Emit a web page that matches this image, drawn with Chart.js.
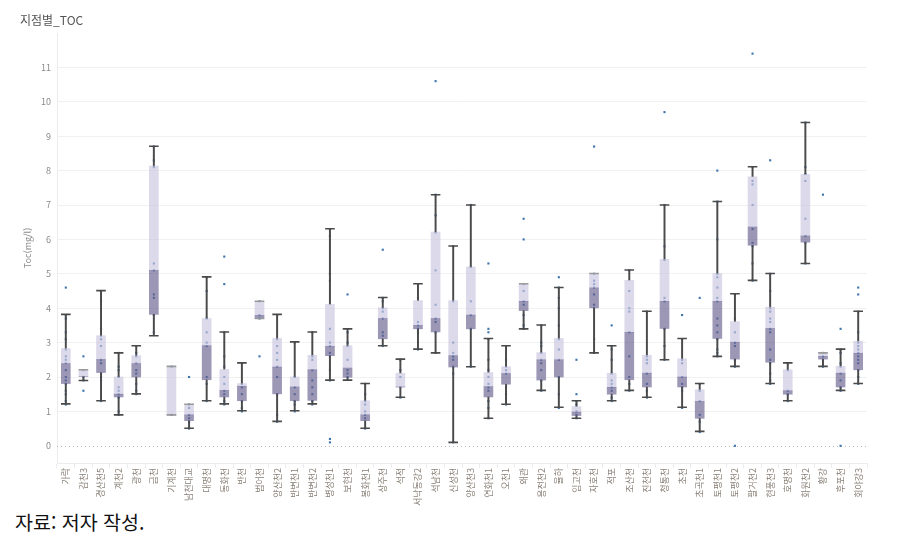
<!DOCTYPE html>
<html lang="ko">
<head>
<meta charset="utf-8">
<script src="https://cdn.jsdelivr.net/npm/chart.js@4.4.1/dist/chart.umd.min.js"></script>
<style>
  body { margin: 0; background: #fff; font-family: "Noto Sans CJK KR", "Noto Sans", sans-serif; }
  #wrap { position: relative; width: 898px; height: 543px; }
  #title { position: absolute; left: 20px; top: 11px; font-size: 12px; color: #555; }
  #box { position: absolute; left: 0; top: 0; width: 898px; height: 506px; }
  #source { position: absolute; left: 15px; top: 507px; font-size: 19.5px; color: #111; }
</style>
</head>
<body>
<div id="wrap">
  <div id="box"><canvas id="toc-chart"></canvas></div>
  <div id="title">지점별_TOC</div>
  <div id="source">자료: 저자 작성.</div>
</div>
<script>
// 지점 이름
const stations = ['가락', '감천3', '경산천5', '계천2', '광천', '금천', '기계천', '남천대교', '대명천', '동화천',
  '반천', '범어천', '양산천2', '반변천1', '반변천2', '병성천1', '보현천', '봉화천1', '상주천', '석적',
  '서낙동강2', '석남천', '신성천', '양산천3', '연화천1', '오천1', '왜관', '용전천2', '율하', '임고천',
  '자호천', '적포', '조산천', '진천천', '청통천', '초천', '초곡천1', '토평천1', '토평천2', '팔거천2',
  '현풍천3', '호명천', '화원천2', '황강', '후포천', '회야강3'];

// 상자 수치 (mg/l)
const mins    = [1.22, 1.90, 1.31, 0.90, 1.51, 3.20, 0.90, 0.51, 1.31, 1.22, 1.02, 3.70, 0.71, 1.02, 1.22, 1.91, 1.91, 0.51, 2.91, 1.41, 2.81, 2.70, 0.10, 2.30, 0.80, 1.21, 3.40, 1.61, 1.12, 0.80, 2.70, 1.31, 1.61, 1.41, 2.50, 1.12, 0.42, 2.60, 2.31, 4.81, 1.81, 1.31, 5.30, 2.31, 1.61, 1.81];
const q1s     = [1.81, 2.02, 2.13, 1.42, 2.00, 3.82, 0.90, 0.73, 1.92, 1.42, 1.31, 3.70, 1.51, 1.31, 1.32, 2.62, 1.99, 0.73, 3.11, 1.71, 3.40, 3.31, 2.29, 3.40, 1.42, 1.79, 3.93, 1.91, 2.00, 0.88, 4.01, 1.50, 1.92, 1.71, 3.41, 1.71, 0.80, 3.12, 2.52, 5.83, 2.43, 1.50, 5.92, 2.52, 1.71, 2.21];
const medians = [2.39, 2.02, 2.51, 1.50, 2.39, 5.10, 0.90, 0.90, 2.91, 1.61, 1.73, 3.79, 2.29, 1.71, 2.21, 2.89, 2.26, 0.90, 3.70, 1.71, 3.50, 3.70, 2.62, 3.80, 1.72, 2.10, 4.20, 2.50, 2.50, 0.98, 4.59, 1.70, 3.30, 2.11, 4.20, 2.00, 1.29, 4.20, 3.01, 6.36, 3.41, 1.60, 6.10, 2.60, 2.11, 2.69];
const q3s     = [2.83, 2.21, 3.20, 2.00, 2.62, 8.13, 2.31, 1.21, 3.70, 2.22, 1.81, 4.20, 3.12, 2.00, 2.63, 4.11, 2.91, 1.31, 4.01, 2.11, 4.22, 6.21, 4.22, 5.20, 2.13, 2.30, 4.71, 2.71, 3.12, 1.14, 5.01, 2.11, 4.81, 2.63, 5.42, 2.53, 1.63, 5.01, 3.61, 7.82, 4.03, 2.21, 7.89, 2.70, 2.31, 3.04];
const maxs    = [3.82, 2.21, 4.51, 2.70, 2.91, 8.71, 2.31, 1.21, 4.91, 3.31, 2.41, 4.20, 3.82, 3.02, 3.31, 6.31, 3.40, 1.81, 4.31, 2.52, 4.71, 7.30, 5.81, 7.00, 3.12, 2.91, 4.71, 3.51, 4.60, 1.31, 5.01, 2.91, 5.11, 3.91, 7.00, 3.12, 1.81, 7.10, 4.42, 8.11, 5.01, 2.41, 9.40, 2.70, 2.81, 3.91];

// 측정값 (점)
const samples = [
  [4.6, 3.8, 3.7, 3.3, 3.1, 2.8, 2.6, 2.5, 2.4, 2.2, 2.0, 1.9, 1.8, 1.6, 1.5, 1.3, 1.2],
  [2.6, 2.2, 2.0, 1.9, 1.6],
  [4.5, 4.2, 3.4, 3.2, 3.1, 2.9, 2.5, 2.4, 2.1, 2.0, 1.9, 1.3],
  [2.7, 2.3, 2.2, 2.0, 1.7, 1.6, 1.5, 1.4, 1.0, 0.9],
  [2.9, 2.7, 2.6, 2.4, 2.2, 2.1, 1.8, 1.6, 1.5],
  [8.7, 8.3, 8.1, 5.3, 5.1, 4.4, 4.3, 3.8, 3.3],
  [2.3, 0.9],
  [2.0, 1.2, 1.1, 0.9, 0.8, 0.7, 0.5],
  [4.9, 4.5, 3.7, 3.3, 3.0, 2.9, 2.0, 1.8, 1.3],
  [5.5, 4.7, 3.3, 2.6, 2.3, 2.0, 1.8, 1.6, 1.5, 1.3, 1.2],
  [2.4, 1.8, 1.7, 1.5, 1.3, 1.1, 1.0],
  [4.2, 3.8, 3.7, 2.6],
  [3.8, 3.1, 2.9, 2.7, 2.5, 2.3, 2.0, 1.5, 0.9, 0.7],
  [3.0, 2.0, 1.7, 1.5, 1.3, 1.2, 1.0],
  [3.3, 2.6, 2.5, 2.2, 1.9, 1.7, 1.5, 1.3, 1.2],
  [6.3, 6.1, 5.0, 4.8, 3.4, 3.0, 2.9, 2.7, 2.6, 2.2, 1.9, 0.2, 0.1],
  [4.4, 3.3, 3.0, 2.9, 2.5, 2.2, 2.1, 2.0],
  [1.8, 1.5, 1.3, 1.2, 1.0, 0.9, 0.8, 0.5],
  [5.7, 4.3, 4.2, 4.0, 3.9, 3.7, 3.3, 3.2, 2.9],
  [2.5, 2.2, 2.0, 1.7, 1.4],
  [4.7, 4.3, 3.6, 3.5, 3.4, 3.3, 2.8],
  [10.6, 7.3, 6.7, 6.2, 5.1, 4.1, 3.7, 3.6, 3.3, 2.7],
  [5.8, 4.2, 3.0, 2.7, 2.6, 2.5, 2.3, 2.1, 0.1],
  [7.0, 5.2, 4.2, 3.8, 3.4, 2.3],
  [5.3, 3.4, 3.3, 3.1, 2.5, 2.2, 2.0, 1.8, 1.7, 1.6, 1.3, 1.1, 0.8],
  [2.9, 2.5, 2.3, 2.2, 2.1, 1.7, 1.5, 1.2],
  [6.6, 6.0, 4.7, 4.5, 4.2, 4.1, 3.8, 3.5, 3.4],
  [3.5, 3.0, 2.9, 2.7, 2.5, 2.4, 2.2, 1.9, 1.6],
  [4.9, 4.6, 4.3, 4.0, 3.5, 3.1, 2.8, 2.5, 2.0, 1.5, 1.1],
  [2.5, 1.5, 1.3, 1.2, 1.0, 0.9, 0.8],
  [8.7, 5.0, 4.8, 4.7, 4.6, 4.4, 4.1, 4.0, 3.1, 2.7],
  [3.5, 2.9, 2.8, 2.5, 2.1, 1.9, 1.8, 1.7, 1.6, 1.4, 1.3],
  [5.1, 4.5, 4.0, 3.9, 3.3, 2.6, 2.0, 1.8, 1.6],
  [3.9, 2.6, 2.5, 2.4, 2.1, 1.8, 1.6, 1.4],
  [9.7, 7.0, 5.8, 5.4, 4.3, 4.2, 3.4, 2.9, 2.5],
  [3.8, 3.1, 2.5, 2.4, 2.0, 1.8, 1.7, 1.6, 1.1],
  [4.3, 1.8, 1.6, 1.3, 0.9, 0.7, 0.4],
  [8.0, 7.1, 6.0, 5.0, 4.9, 4.6, 4.3, 4.2, 3.7, 3.5, 3.3, 3.1, 2.8, 2.7, 2.6],
  [4.4, 3.7, 3.3, 3.0, 2.9, 2.5, 2.3, 0.0],
  [11.4, 8.1, 7.7, 7.6, 7.0, 6.3, 5.9, 5.8, 5.3, 4.8],
  [8.3, 5.0, 4.5, 4.0, 3.9, 3.7, 3.6, 3.4, 3.3, 2.8, 2.5, 2.4, 2.1, 1.9, 1.8],
  [2.4, 2.2, 1.6, 1.5, 1.3],
  [9.4, 8.1, 7.9, 7.7, 6.6, 6.1, 5.9, 5.3],
  [7.3, 2.7, 2.6, 2.5, 2.3],
  [3.4, 2.8, 2.7, 2.4, 2.3, 2.1, 1.9, 1.7, 1.6, 0.0],
  [4.6, 4.4, 3.9, 3.3, 3.0, 2.9, 2.8, 2.7, 2.6, 2.5, 2.4, 2.2, 2.0, 1.8]
];

const yTicks = [0, 1, 2, 3, 4, 5, 6, 7, 8, 9, 10, 11];

const darkBox = 'rgba(103,95,141,0.65)';
const lightBox = 'rgba(201,197,223,0.65)';
const whiskerColor = '#4a4a4a';
const dotColor = '#3f74ad';

// 점 데이터
const dotData = [];
samples.forEach((list, i) => {
  list.forEach(v => dotData.push({ x: stations[i], y: v }));
});

// 0 기준선 (점선)
const zeroLine = {
  id: 'zeroLine',
  beforeDatasetsDraw(chart) {
    const { ctx, chartArea, scales } = chart;
    const py = Math.round(scales.y.getPixelForValue(0)) + 0.5;
    ctx.save();
    ctx.strokeStyle = '#b8b8b8';
    ctx.lineWidth = 1;
    ctx.setLineDash([1, 3]);
    ctx.beginPath();
    ctx.moveTo(chartArea.left, py);
    ctx.lineTo(chartArea.right, py);
    ctx.stroke();
    ctx.restore();
  }
};

const capColor = (which) => (c) => {
  const i = c.dataIndex;
  const flat = which === 'max' ? maxs[i] === q3s[i] : mins[i] === q1s[i];
  return flat ? '#9a9a9a' : whiskerColor;
};

new Chart(document.getElementById('toc-chart'), {
  type: 'bar',
  data: {
    labels: stations,
    datasets: [
      {
        label: 'points', type: 'line', data: dotData, showLine: false, order: 10,
        pointStyle: 'rect', pointRadius: 1.5, pointBackgroundColor: dotColor, pointBorderWidth: 0
      },
      {
        label: 'upper whisker', data: q3s.map((q, i) => [q, maxs[i]]), order: 8, grouped: false,
        barThickness: 1.3, backgroundColor: whiskerColor
      },
      {
        label: 'lower whisker', data: q1s.map((q, i) => [mins[i], q]), order: 8, grouped: false,
        barThickness: 1.3, backgroundColor: whiskerColor
      },
      {
        label: 'Q1-median', data: q1s.map((q, i) => [q, medians[i]]), order: 5, grouped: false,
        barThickness: 9, backgroundColor: darkBox
      },
      {
        label: 'median-Q3', data: medians.map((m, i) => [m, q3s[i]]), order: 5, grouped: false,
        barThickness: 9, backgroundColor: lightBox
      },
      {
        label: 'max cap', type: 'line', data: maxs, showLine: false, order: 1,
        pointStyle: 'line', pointRadius: 4.8, pointBorderWidth: 1.6, pointBorderColor: capColor('max')
      },
      {
        label: 'min cap', type: 'line', data: mins, showLine: false, order: 1,
        pointStyle: 'line', pointRadius: 4.8, pointBorderWidth: 1.6, pointBorderColor: capColor('min')
      }
    ]
  },
  options: {
    responsive: true,
    maintainAspectRatio: false,
    animation: false,
    layout: { padding: { top: 33, right: 31, left: 0, bottom: 0 } },
    plugins: { legend: { display: false }, tooltip: { enabled: false } },
    scales: {
      x: {
        offset: true,
        grid: { offset: true, drawOnChartArea: false, drawTicks: true, tickLength: 5, color: '#ececec' },
        border: { display: true, color: '#ececec' },
        ticks: {
          autoSkip: false, maxRotation: 90, minRotation: 90, padding: 0,
          color: '#8a8178', font: { family: '"Noto Sans CJK KR", sans-serif', size: 9 }
        },
        afterFit(scale) { scale.height = 43; }
      },
      y: {
        min: -0.5,
        max: 12,
        ticks: {
          stepSize: 1, padding: 6, color: '#8a8a8a',
          font: { family: '"Noto Sans CJK KR", sans-serif', size: 9 },
          callback: (v) => yTicks.includes(v) ? v : ''
        },
        grid: {
          drawTicks: false,
          color: (c) => (c.tick && yTicks.includes(c.tick.value) && c.tick.value > 0) ? '#f1f1f1' : 'rgba(0,0,0,0)'
        },
        border: { display: true, color: '#ececec' },
        title: {
          display: true, text: 'Toc(mg/l)', color: '#8a8a8a', padding: { top: 22, bottom: 0 },
          font: { family: '"Noto Sans CJK KR", sans-serif', size: 9 }
        },
        afterFit(scale) { scale.width = 57; }
      }
    }
  },
  plugins: [zeroLine]
});
</script>
</body>
</html>
